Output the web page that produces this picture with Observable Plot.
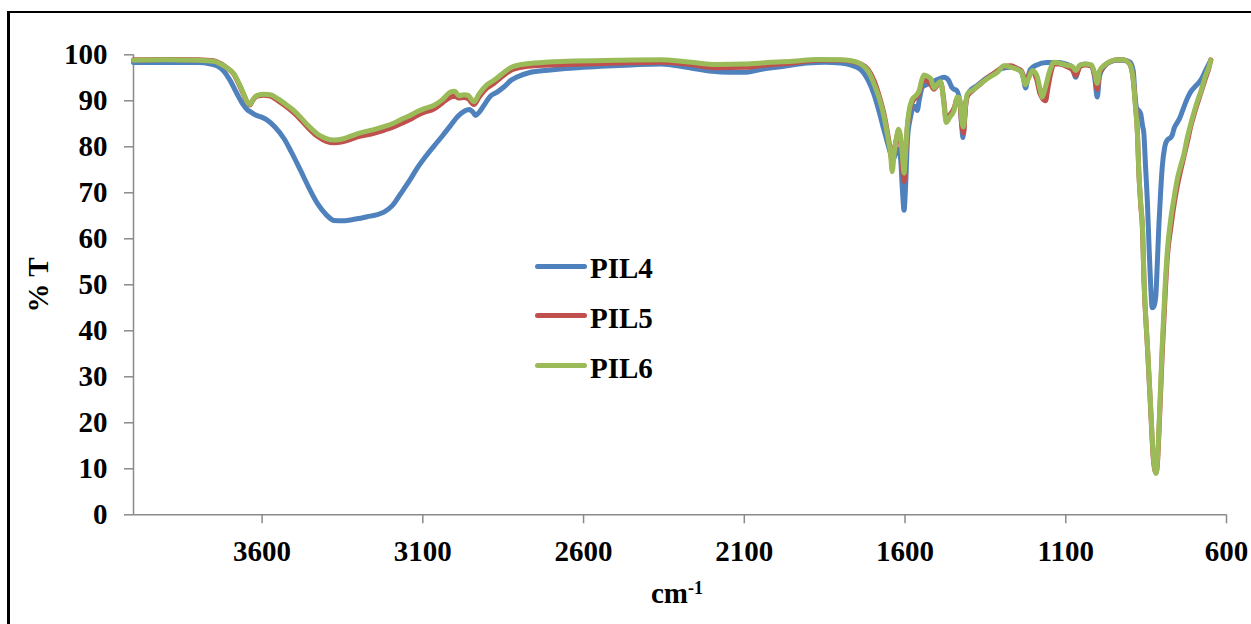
<!DOCTYPE html>
<html>
<head>
<meta charset="utf-8">
<script src="https://cdn.jsdelivr.net/npm/d3@7"></script>
<script src="https://cdn.jsdelivr.net/npm/@observablehq/plot@0.6"></script>
<style>
  html, body { margin: 0; padding: 0; background: #fff; overflow: hidden; }
  #page { position: relative; width: 1251px; height: 624px; overflow: hidden; font-family: "Liberation Serif", "Times New Roman", serif; font-weight: bold; color: #000; }
  #frame { position: absolute; left: 7px; top: 11px; width: 3000px; height: 3000px; border-left: 3px solid #000; border-top: 2px solid #000; }
  #chart { position: absolute; left: 0; top: 0; }
  .ttl { position: absolute; font-size: 29px; line-height: 1; white-space: nowrap; }
  #legend { position: absolute; left: 0; top: 0; }
  .row { position: absolute; left: 535px; height: 29px; }
  .sw { position: absolute; left: 0; width: 52px; height: 5px; border-radius: 3px; }
  .lab { position: absolute; left: 55px; top: 0; font-size: 29px; line-height: 1; }
</style>
</head>
<body>
<div id="page">
  <div id="frame"></div>
  <div id="chart"></div>
</div>
<script>
// FT-IR spectra of the three ionic-liquid samples (% transmittance vs wavenumber)
const seriesNames = ["PIL4", "PIL5", "PIL6"];
const seriesColors = ["#4F81BD", "#C0504D", "#9BBB59"];

const xTicks = [3600, 3100, 2600, 2100, 1600, 1100, 600];
const yTicks = [0, 10, 20, 30, 40, 50, 60, 70, 80, 90, 100];

const pil4Wavenumber = [4000, 3900, 3800, 3760, 3740, 3720, 3700, 3680, 3660, 3645, 3636, 3620, 3600, 3584, 3560, 3532, 3510, 3480, 3455, 3428, 3400, 3377, 3350, 3325, 3300, 3273, 3245, 3221, 3195, 3169, 3140, 3118, 3090, 3066, 3040, 3014, 2990, 2970, 2955, 2945, 2936, 2925, 2910, 2890, 2869, 2848, 2825, 2807, 2770, 2703, 2600, 2547, 2450, 2360, 2280, 2200, 2150, 2101, 2050, 1977, 1904, 1850, 1800, 1770, 1738, 1715, 1697, 1680, 1665, 1655, 1645, 1638, 1630, 1622, 1614, 1608, 1603, 1598, 1592, 1583, 1575, 1568, 1562, 1555, 1546, 1530, 1520, 1500, 1479, 1465, 1455, 1448, 1440, 1430, 1424, 1420, 1415, 1410, 1400, 1376, 1350, 1320, 1300, 1270, 1240, 1232, 1225, 1218, 1210, 1190, 1160, 1130, 1100, 1080, 1069, 1058, 1040, 1020, 1010, 1002, 995, 980, 960, 940, 920, 900, 890, 885, 880, 872, 867, 861, 857, 852, 846, 841, 836, 831, 826, 820, 815, 810, 805, 800, 792, 784, 774, 769, 763, 753, 747, 737, 722, 711, 695, 680, 665, 649];
const pil4Transmittance = [98.3, 98.3, 98.3, 98.0, 97.6, 96.5, 94.5, 91.8, 89.3, 88.0, 87.6, 86.9, 86.4, 85.8, 84.3, 81.8, 79.0, 74.8, 71.2, 67.7, 65.2, 64.0, 63.9, 64.1, 64.4, 64.8, 65.2, 65.8, 67.2, 69.8, 72.8, 75.3, 78.0, 80.1, 82.3, 84.6, 86.7, 87.8, 88.1, 87.6, 86.8, 87.5, 89.0, 91.0, 91.9, 93.0, 94.5, 95.2, 96.1, 96.7, 97.3, 97.5, 97.8, 98.0, 97.3, 96.4, 96.2, 96.2, 96.8, 97.5, 98.2, 98.4, 98.2, 97.8, 96.8, 94.5, 91.5, 87.5, 83.5, 81.0, 78.5, 77.0, 78.5, 79.5, 77.5, 70.5, 66.2, 72.0, 82.0, 86.4, 88.5, 88.8, 87.9, 90.5, 93.0, 93.6, 93.9, 94.6, 95.1, 94.5, 93.0, 92.5, 92.3, 90.0, 85.0, 82.0, 86.0, 90.0, 92.0, 93.3, 94.8, 96.0, 97.0, 97.3, 96.5, 95.0, 92.8, 95.0, 96.8, 97.8, 98.3, 98.3, 98.0, 97.3, 95.1, 97.5, 98.0, 97.5, 95.0, 90.8, 95.5, 97.5, 98.5, 98.8, 98.8, 98.4, 96.5, 91.5, 88.5, 87.8, 87.2, 84.5, 82.9, 76.0, 67.8, 58.5, 50.1, 45.0, 45.3, 47.5, 55.0, 63.4, 70.0, 75.5, 80.0, 81.5, 82.0, 82.5, 84.0, 85.3, 86.0, 87.8, 90.5, 92.0, 93.3, 94.5, 96.6, 98.8];

const pil5Wavenumber = [4000, 3900, 3800, 3750, 3729, 3710, 3688, 3670, 3657, 3645, 3638, 3628, 3615, 3595, 3574, 3550, 3522, 3500, 3480, 3455, 3428, 3400, 3377, 3350, 3325, 3300, 3273, 3250, 3221, 3195, 3169, 3140, 3118, 3095, 3066, 3040, 3014, 3000, 2988, 2972, 2960, 2941, 2925, 2900, 2880, 2858, 2840, 2827, 2800, 2755, 2651, 2500, 2360, 2280, 2184, 2100, 2028, 1950, 1873, 1800, 1760, 1738, 1715, 1697, 1680, 1665, 1652, 1645, 1640, 1634, 1629, 1620, 1613, 1607, 1603, 1598, 1593, 1588, 1577, 1565, 1556, 1548, 1541, 1530, 1520, 1510, 1500, 1489, 1480, 1472, 1460, 1448, 1437, 1430, 1424, 1418, 1412, 1406, 1390, 1365, 1340, 1313, 1292, 1271, 1250, 1238, 1225, 1215, 1204, 1190, 1180, 1163, 1155, 1145, 1137, 1120, 1095, 1080, 1069, 1055, 1038, 1020, 1010, 1002, 995, 981, 960, 939, 920, 908, 898, 890, 883, 877, 873, 867, 861, 857, 846, 836, 828, 822, 819, 815, 810, 800, 790, 784, 773, 763, 753, 742, 732, 722, 711, 701, 690, 680, 665, 654, 649];
const pil5Transmittance = [98.9, 99.0, 98.9, 98.7, 98.1, 97.2, 95.8, 93.3, 91.3, 89.5, 89.1, 90.2, 91.0, 91.2, 91.0, 90.0, 88.6, 87.3, 85.9, 84.0, 82.3, 81.2, 80.9, 81.1, 81.6, 82.2, 82.6, 83.0, 83.6, 84.2, 85.0, 85.9, 86.8, 87.5, 88.2, 89.5, 90.8, 91.0, 90.6, 90.7, 90.5, 89.2, 90.8, 92.8, 93.7, 95.0, 96.0, 96.6, 97.2, 97.6, 97.9, 98.2, 98.4, 98.0, 97.2, 97.3, 97.8, 98.2, 98.8, 98.8, 98.5, 98.0, 96.8, 94.5, 91.0, 87.0, 82.0, 79.0, 76.5, 79.0, 81.0, 83.0, 80.5, 75.0, 72.5, 78.5, 84.0, 87.0, 89.8, 90.8, 91.8, 93.8, 94.5, 94.3, 93.5, 92.5, 93.4, 94.0, 90.5, 86.0, 87.0, 88.3, 90.5, 90.0, 85.0, 83.0, 88.5, 91.0, 92.2, 93.7, 95.2, 96.5, 97.5, 97.6, 97.0, 96.5, 94.5, 95.5, 96.5, 94.5, 91.5, 90.0, 93.0, 96.5, 98.0, 98.0, 97.4, 96.8, 95.5, 97.5, 97.8, 97.6, 95.5, 92.5, 96.0, 97.5, 98.6, 98.9, 98.9, 98.5, 97.5, 94.5, 89.0, 83.0, 75.0, 67.5, 61.5, 51.5, 36.5, 23.0, 12.5, 9.5, 9.2, 11.0, 18.0, 35.0, 49.0, 56.0, 62.5, 67.5, 71.5, 75.0, 78.0, 81.0, 84.5, 87.0, 89.5, 91.7, 95.0, 97.3, 98.9];

const pil6Wavenumber = [4000, 3900, 3800, 3750, 3729, 3710, 3688, 3670, 3657, 3645, 3638, 3628, 3615, 3595, 3574, 3550, 3522, 3500, 3480, 3455, 3428, 3400, 3377, 3350, 3325, 3300, 3273, 3250, 3221, 3195, 3169, 3140, 3118, 3095, 3066, 3040, 3014, 3000, 2988, 2972, 2960, 2941, 2925, 2900, 2880, 2858, 2840, 2827, 2800, 2755, 2651, 2500, 2360, 2280, 2184, 2100, 2028, 1950, 1873, 1800, 1760, 1738, 1715, 1697, 1680, 1665, 1652, 1645, 1640, 1634, 1629, 1620, 1613, 1607, 1603, 1598, 1593, 1588, 1577, 1565, 1556, 1548, 1541, 1530, 1520, 1510, 1500, 1489, 1480, 1472, 1460, 1448, 1437, 1430, 1424, 1418, 1412, 1406, 1390, 1365, 1340, 1313, 1292, 1271, 1250, 1238, 1225, 1215, 1204, 1190, 1180, 1173, 1165, 1150, 1137, 1120, 1095, 1080, 1069, 1055, 1038, 1020, 1010, 1002, 995, 981, 960, 939, 920, 908, 898, 890, 883, 877, 873, 867, 861, 857, 846, 836, 828, 822, 819, 815, 810, 800, 790, 784, 773, 763, 753, 742, 732, 722, 711, 701, 690, 680, 665, 654, 649];
const pil6Transmittance = [98.8, 98.9, 98.8, 98.6, 98.0, 97.2, 95.9, 93.5, 91.5, 89.6, 89.2, 90.3, 91.2, 91.4, 91.3, 90.4, 89.0, 87.8, 86.4, 84.5, 82.8, 81.8, 81.5, 81.7, 82.3, 82.9, 83.4, 83.8, 84.4, 85.0, 85.9, 86.8, 87.6, 88.3, 89.0, 90.2, 91.9, 92.1, 91.1, 91.3, 91.2, 89.8, 91.5, 93.5, 94.4, 95.6, 96.6, 97.2, 97.8, 98.2, 98.6, 98.8, 98.9, 98.5, 97.9, 98.0, 98.3, 98.6, 99.0, 98.9, 98.6, 98.0, 96.5, 93.8, 90.5, 86.5, 81.5, 78.5, 74.6, 78.5, 81.0, 83.8, 82.0, 77.0, 74.3, 79.0, 84.5, 87.5, 90.4, 91.2, 92.2, 94.5, 95.6, 95.3, 94.8, 92.8, 93.6, 94.2, 90.0, 85.3, 86.5, 87.8, 90.8, 90.5, 86.0, 84.3, 89.0, 91.5, 92.3, 93.7, 95.0, 96.2, 97.6, 97.3, 96.8, 96.3, 93.5, 95.0, 96.6, 95.5, 92.5, 90.8, 92.5, 96.5, 98.4, 98.2, 97.7, 97.5, 96.6, 97.8, 98.0, 97.8, 96.0, 93.8, 96.5, 97.7, 98.6, 98.9, 98.9, 98.5, 97.5, 94.5, 88.5, 82.8, 75.0, 68.0, 62.0, 52.0, 36.8, 23.5, 13.0, 9.5, 9.0, 11.5, 19.1, 36.8, 51.0, 57.5, 64.5, 69.0, 73.0, 76.0, 78.5, 82.0, 85.0, 87.5, 90.0, 92.0, 95.5, 97.5, 98.8];

// Long-format table built from the per-sample arrays
const spectra = [
  [seriesNames[0], pil4Wavenumber, pil4Transmittance],
  [seriesNames[1], pil5Wavenumber, pil5Transmittance],
  [seriesNames[2], pil6Wavenumber, pil6Transmittance]
].flatMap(([name, wn, t]) => wn.map((w, i) => ({sample: name, wavenumber: w, transmittance: t[i]})));

const axisGray = "#8a8a8a";
const fontFamily = "'Liberation Serif', 'Times New Roman', serif";

const chart = Plot.plot({
  width: 1251,
  height: 624,
  marginLeft: 133,
  marginRight: 25,
  marginTop: 54.3,
  marginBottom: 109.7,
  style: {fontFamily, fontSize: "29px", fontWeight: "bold", background: "transparent", color: "#000", overflow: "visible"},
  x: {domain: [4000, 600], label: null},
  y: {domain: [0, 100], label: null},
  color: {domain: seriesNames, range: seriesColors},
  marks: [
    Plot.axisY({ticks: yTicks, tickFormat: d => String(d), tickSize: 9, tickPadding: 17, stroke: axisGray, strokeWidth: 1.5, fill: "#000", fontSize: 29, fontWeight: "bold", label: null}),
    Plot.axisX({ticks: xTicks, tickFormat: d => String(d), tickSize: 9, tickPadding: 17, stroke: axisGray, strokeWidth: 1.5, fill: "#000", fontSize: 29, fontWeight: "bold", label: null}),
    Plot.ruleX([4000], {stroke: axisGray, strokeWidth: 1.5}),
    Plot.ruleY([0], {stroke: axisGray, strokeWidth: 1.5}),
    Plot.line(spectra, {
      x: "wavenumber",
      y: "transmittance",
      z: "sample",
      stroke: "sample",
      strokeWidth: 5,
      strokeLinejoin: "round",
      strokeLinecap: "round",
      curve: "monotone-x"
    })
  ]
});
document.getElementById("chart").appendChild(chart);

// Axis titles
const page = document.getElementById("page");
const yTitle = document.createElement("div");
yTitle.className = "ttl";
yTitle.textContent = "% T";
yTitle.style.left = "0px";
yTitle.style.top = "0px";
yTitle.style.transform = "translate(38px, 285px) translate(-50%, -50%) rotate(-90deg)";
page.appendChild(yTitle);

const xTitle = document.createElement("div");
xTitle.className = "ttl";
xTitle.style.left = "651px";
xTitle.style.top = "579px";
xTitle.innerHTML = 'cm<span style="font-size:18px;vertical-align:9px;">-1</span>';
page.appendChild(xTitle);

// Legend inside the plotting area
const legend = document.createElement("div");
legend.id = "legend";
seriesNames.forEach((name, i) => {
  const row = document.createElement("div");
  row.className = "row";
  row.style.top = (254 + i * 49.8) + "px";
  const sw = document.createElement("div");
  sw.className = "sw";
  sw.style.top = "9.5px";
  sw.style.background = seriesColors[i];
  const lab = document.createElement("div");
  lab.className = "lab";
  lab.textContent = name;
  row.appendChild(sw);
  row.appendChild(lab);
  legend.appendChild(row);
});
page.appendChild(legend);
</script>
</body>
</html>
